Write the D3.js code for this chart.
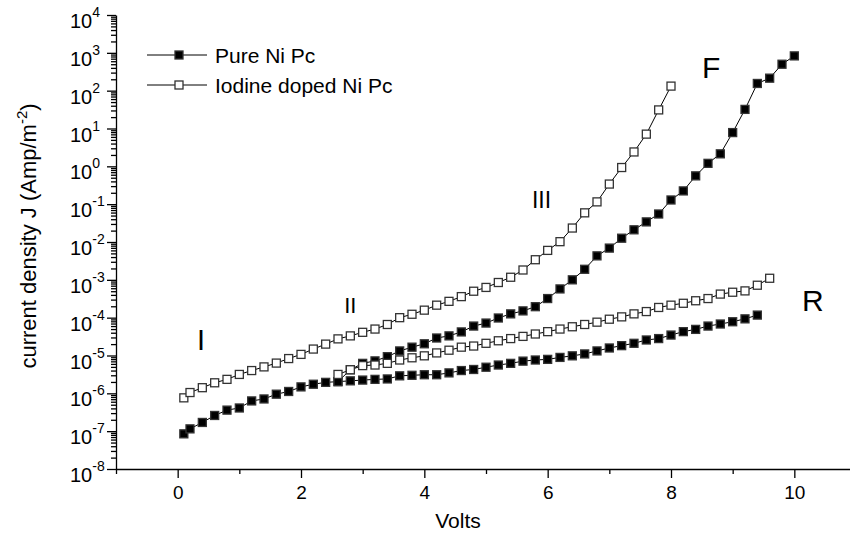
<!DOCTYPE html>
<html><head><meta charset="utf-8">
<script src="https://cdn.jsdelivr.net/npm/d3@7"></script>
<style>
body{margin:0;background:#fff}
svg{display:block}
text{font-family:"Liberation Sans",Arial,Helvetica,sans-serif;fill:#000}
</style>
</head><body>
<svg id="chart" width="850" height="538"></svg>
<script>
// ---------- data ----------
const pureForwardV = [0.1,0.2,0.4,0.6,0.8,1.0,1.2,1.4,1.6,1.8,2.0,2.2,2.4,2.6,2.8,3.0,3.2,3.4,3.6,3.8,4.0,4.2,4.4,4.6,4.8,5.0,5.2,5.4,5.6,5.8,6.0,6.2,6.4,6.6,6.8,7.0,7.2,7.4,7.6,7.8,8.0,8.2,8.4,8.6,8.8,9.0,9.2,9.4,9.6,9.8,10.0];
const pureForwardJ = [8.5e-8,1.15e-7,1.7e-7,2.6e-7,3.6e-7,4.1e-7,6.3e-7,7.1e-7,9.5e-7,1.12e-6,1.48e-6,1.74e-6,1.95e-6,2.04e-6,4.2e-6,6.2e-6,7.2e-6,9.3e-6,1.32e-5,1.66e-5,2.04e-5,2.9e-5,3.3e-5,4.2e-5,6.0e-5,7.2e-5,9.8e-5,1.26e-4,1.51e-4,1.95e-4,3.2e-4,5.75e-4,1.0e-3,1.9e-3,4.3e-3,6.9e-3,1.26e-2,2.1e-2,3.4e-2,5.5e-2,0.129,0.224,0.56,1.2,2.14,7.8,32,155,214,500,830];

const pureReverseV = [2.6,2.8,3.0,3.2,3.4,3.6,3.8,4.0,4.2,4.4,4.6,4.8,5.0,5.2,5.4,5.6,5.8,6.0,6.2,6.4,6.6,6.8,7.0,7.2,7.4,7.6,7.8,8.0,8.2,8.4,8.6,8.8,9.0,9.2,9.4];
const pureReverseJ = [2.04e-6,2.14e-6,2.24e-6,2.34e-6,2.4e-6,2.9e-6,3.0e-6,3.1e-6,3.1e-6,3.47e-6,4.0e-6,4.27e-6,4.9e-6,5.6e-6,6.2e-6,7.1e-6,7.6e-6,7.9e-6,8.9e-6,9.8e-6,1.1e-5,1.32e-5,1.58e-5,1.82e-5,2.1e-5,2.57e-5,2.8e-5,3.47e-5,4.27e-5,4.9e-5,6.0e-5,6.8e-5,7.8e-5,9.3e-5,1.17e-4];

const iodineForwardV = [0.1,0.2,0.4,0.6,0.8,1.0,1.2,1.4,1.6,1.8,2.0,2.2,2.4,2.6,2.8,3.0,3.2,3.4,3.6,3.8,4.0,4.2,4.4,4.6,4.8,5.0,5.2,5.4,5.6,5.8,6.0,6.2,6.4,6.6,6.8,7.0,7.2,7.4,7.6,7.8,8.0];
const iodineForwardJ = [7.6e-7,1.05e-6,1.41e-6,1.9e-6,2.34e-6,3.16e-6,4.0e-6,5.0e-6,6.3e-6,8.3e-6,1.07e-5,1.48e-5,2.0e-5,2.75e-5,3.3e-5,4.1e-5,5.0e-5,6.6e-5,1.0e-4,1.23e-4,1.58e-4,2.14e-4,2.7e-4,3.6e-4,5.0e-4,6.3e-4,8.5e-4,1.17e-3,1.82e-3,3.4e-3,6.0e-3,1.02e-2,2.34e-2,5.9e-2,0.115,0.34,0.93,2.4,7.1,31,132];

const iodineReverseV = [2.6,2.8,3.0,3.2,3.4,3.6,3.8,4.0,4.2,4.4,4.6,4.8,5.0,5.2,5.4,5.6,5.8,6.0,6.2,6.4,6.6,6.8,7.0,7.2,7.4,7.6,7.8,8.0,8.2,8.4,8.6,8.8,9.0,9.2,9.4,9.6];
const iodineReverseJ = [3.16e-6,4.2e-6,5.4e-6,5.6e-6,6.2e-6,7.6e-6,8.7e-6,9.8e-6,1.17e-5,1.38e-5,1.66e-5,1.78e-5,2.1e-5,2.45e-5,2.8e-5,3.2e-5,3.7e-5,4.27e-5,5.0e-5,5.75e-5,6.6e-5,7.6e-5,9.1e-5,1.05e-4,1.26e-4,1.45e-4,1.86e-4,2.14e-4,2.4e-4,2.8e-4,3.2e-4,4.2e-4,4.7e-4,5.1e-4,7.2e-4,1.1e-3];

const xTickLabels = [0,2,4,6,8,10];
const xMinorTicks = [-1,1,3,5,7,9];
const yDecades = [-8,-7,-6,-5,-4,-3,-2,-1,0,1,2,3,4];
const legendLabels = ["Pure Ni Pc","Iodine doped Ni Pc"];
const regionLabels = [
  {t:"I",   v:0.38, j:1.4e-5, size:29},
  {t:"II",  v:2.8,  j:1.3e-4, size:22},
  {t:"III", v:5.9,  j:0.08,   size:23},
  {t:"F",   v:8.65, j:220,    size:30},
  {t:"R",   v:10.3, j:1.5e-4, size:30}
];

// ---------- scales ----------
const svg = d3.select("#chart");
const x = d3.scaleLinear().domain([-1, 11]).range([116, 856]);
const y = d3.scaleLog().domain([1e-8, 1e4]).range([469, 15]);

// ---------- axes ----------
const xMajor = svg.append("g").attr("transform","translate(0,469)")
  .call(d3.axisBottom(x).tickValues(xTickLabels).tickSize(9).tickSizeOuter(0).tickPadding(6).tickFormat(d3.format("d")));
const xMinor = svg.append("g").attr("transform","translate(0,469)")
  .call(d3.axisBottom(x).tickValues(xMinorTicks).tickSize(5).tickSizeOuter(0).tickFormat(""));
xMinor.select(".domain").remove();
xMajor.select(".domain").attr("d","M116,0.5H850");
xMajor.selectAll("text").attr("font-size",19).attr("font-family","Liberation Sans, Arial, sans-serif").attr("dy","0.71em").attr("y",17);

const minorVals = [];
yDecades.slice(0,-1).forEach(e => { for (let k=2;k<=9;k++) minorVals.push(k*Math.pow(10,e)); });
const yMajorVals = yDecades.map(e => Math.pow(10,e));
const yMajor = svg.append("g").attr("transform","translate(116,0)")
  .call(d3.axisLeft(y).tickValues(yMajorVals).tickSize(9).tickSizeOuter(0).tickFormat(""));
const yMinor = svg.append("g").attr("transform","translate(116,0)")
  .call(d3.axisLeft(y).tickValues(minorVals).tickSize(5).tickSizeOuter(0).tickFormat(""));
yMinor.select(".domain").remove();
svg.selectAll(".domain, .tick line").attr("stroke","#000").attr("stroke-width",1.3);

// y tick labels 10^n
const yl = svg.append("g");
yDecades.forEach(e => {
  const t = yl.append("text").attr("x",70).attr("y", y(Math.pow(10,e)) + 13).attr("font-size",20);
  t.append("tspan").text("10");
  t.append("tspan").attr("font-size",14).attr("dy",-11).text(String(e));
});

// axis titles
svg.append("text").attr("x",458).attr("y",528).attr("text-anchor","middle").attr("font-size",21).text("Volts");
const yt = svg.append("text").attr("transform","translate(36,236) rotate(-90)").attr("text-anchor","middle").attr("font-size",22);
yt.append("tspan").text("current density J (Amp/m");
yt.append("tspan").attr("font-size",15).attr("dy",-9).text("-2");
yt.append("tspan").attr("dy",9).text(")");

// ---------- series ----------
const series = [
  {v:pureForwardV, j:pureForwardJ, fill:"#000"},
  {v:pureReverseV, j:pureReverseJ, fill:"#000"},
  {v:iodineReverseV, j:iodineReverseJ, fill:"#fff"},
  {v:iodineForwardV, j:iodineForwardJ, fill:"#fff"}
];
const line = d3.line().x(d => x(d[0])).y(d => y(d[1]));
const S = 8;
series.forEach(s => {
  const pts = s.v.map((v,i) => [v, s.j[i]]);
  svg.append("path").datum(pts).attr("d", line).attr("fill","none").attr("stroke","#000").attr("stroke-width",1);
});
series.forEach(s => {
  const pts = s.v.map((v,i) => [v, s.j[i]]);
  svg.append("g").selectAll("rect").data(pts).join("rect")
    .attr("x", d => x(d[0]) - S/2).attr("y", d => y(d[1]) - S/2)
    .attr("width", S).attr("height", S)
    .attr("fill", s.fill).attr("stroke","#333").attr("stroke-width",1.3);
});

// ---------- legend ----------
const legendFills = ["#000","#fff"];
legendLabels.forEach((lab,i) => {
  const yy = 55 + i*30;
  const g = svg.append("g");
  g.append("line").attr("x1",147).attr("x2",207).attr("y1",yy).attr("y2",yy).attr("stroke","#000").attr("stroke-width",1);
  g.append("rect").attr("x",179-S/2).attr("y",yy-S/2).attr("width",S).attr("height",S)
    .attr("fill",legendFills[i]).attr("stroke","#333").attr("stroke-width",1.3);
  g.append("text").attr("x",215).attr("y",yy+8).attr("font-size",21).text(lab);
});

// ---------- region labels ----------
regionLabels.forEach(r => {
  svg.append("text").attr("x", x(r.v)).attr("y", y(r.j)).attr("text-anchor","middle")
    .attr("font-size", r.size).text(r.t);
});
</script>
</body></html>
